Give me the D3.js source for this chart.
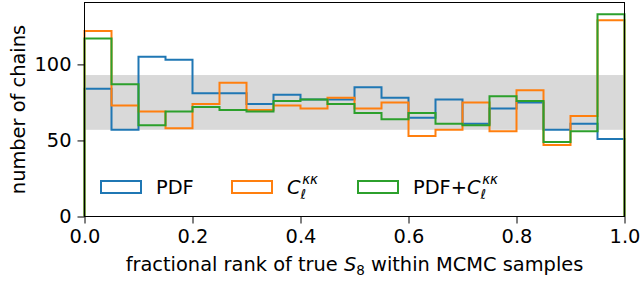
<html>
<script src='https://d3js.org/d3.v7.min.js'></script>
<style>
body { margin:0; background:#fff; }
text { font-family: "DejaVu Sans", sans-serif; }
</style>
<body>
<svg width=640 height=282></svg>
<script>
// bin edges: 20 bins between 0 and 1
var binEdges = d3.range(21).map(function(i) { return i / 20; });

// counts per bin
var pdfCounts = [84, 57, 105, 103, 81, 81, 74, 80, 77, 77, 85, 78, 65, 77, 61, 71, 75, 57, 61, 51];
var clCounts = [122, 73, 69, 58, 74, 88, 70, 73, 71, 78, 71, 75, 53, 57, 75, 56, 83, 47, 66, 129];
var bothCounts = [117, 87, 60, 69, 72, 70, 69, 76, 77, 74, 68, 64, 68, 61, 60, 79, 76, 49, 56, 133];

var bandRange = [57, 93];
var xTicks = [0, 0.2, 0.4, 0.6, 0.8, 1.0];
var yTicks = [0, 50, 100];

var seriesNames = ["PDF", "Cl", "PDF+Cl"];
var seriesColors = ["#1f77b4", "#ff7f0e", "#2ca02c"];

var svg = d3.select("svg");
var plotL = 84.5, plotR = 624.5, plotT = 2.5, plotB = 216.5;
var fs = "19.4px";

var x = d3.scaleLinear().domain([0, 1]).range([plotL, plotR]);
var y = d3.scaleLinear().domain([0, 140.7]).range([plotB, plotT]);

// gray band
svg.append("rect")
.attr("x", x(0))
.attr("y", y(bandRange[1]))
.attr("width", x(1) - x(0))
.attr("height", y(bandRange[0]) - y(bandRange[1]))
.style("fill", "#d9d9d9");

// step histograms
function stepPath(counts) {
  var pts = [[binEdges[0], 0]];
  counts.forEach(function(c, i) {
    pts.push([binEdges[i], c]);
    pts.push([binEdges[i + 1], c]);
  });
  pts.push([binEdges[20], 0]);
  return d3.line().x(function(d) { return x(d[0]); }).y(function(d) { return y(d[1]); })(pts);
}

[pdfCounts, clCounts, bothCounts].forEach(function(counts, k) {
  svg.append("path")
  .attr("d", stepPath(counts))
  .style("fill", "none")
  .style("stroke", seriesColors[k])
  .style("stroke-width", 2)
  .style("stroke-linejoin", "miter");
});

// frame
svg.append("rect")
.attr("x", plotL).attr("y", plotT)
.attr("width", plotR - plotL).attr("height", plotB - plotT)
.style("fill", "none").style("stroke", "black").style("stroke-width", 1);

// axes
var xAxis = svg.append("g")
.attr("transform", "translate(0," + plotB + ")")
.call(d3.axisBottom(x).tickValues(xTicks).tickFormat(d3.format(".1f")).tickSize(7).tickPadding(6));
var yAxis = svg.append("g")
.attr("transform", "translate(" + plotL + ",0)")
.call(d3.axisLeft(y).tickValues(yTicks).tickSize(7).tickPadding(6));

[xAxis, yAxis].forEach(function(a) {
  a.select(".domain").remove();
  a.selectAll("text").style("font-family", "DejaVu Sans").style("font-size", fs).style("fill", "black");
  a.selectAll("line").style("stroke", "black");
});

svg.append("text")
.attr("x", x(0.5)).attr("y", 270.5)
.attr("text-anchor", "middle")
.style("font-size", fs)
.call(function(t) {
  t.append("tspan").text("fractional rank of true ");
  t.append("tspan").style("font-style", "italic").text("S");
  t.append("tspan").attr("dy", 4).style("font-size", "13.5px").text("8");
  t.append("tspan").attr("dy", -4).text(" within MCMC samples");
});

svg.append("text")
.attr("transform", "translate(25," + ((plotT + plotB) / 2) + ") rotate(-90)")
.attr("text-anchor", "middle")
.style("font-size", fs)
.text("number of chains");

// legend
var legendX = [101, 232, 358];
seriesNames.forEach(function(name, k) {
  var g = svg.append("g").attr("transform", "translate(" + legendX[k] + ",181)");
  g.append("rect")
  .attr("width", 40).attr("height", 12)
  .style("fill", "none").style("stroke", seriesColors[k]).style("stroke-width", 2);
  var t = g.append("text").attr("x", 55).attr("y", 13).style("font-size", fs);
  if (name == "PDF") {
    t.text("PDF");
  } else {
    if (name == "PDF+Cl") t.append("tspan").text("PDF+");
    t.append("tspan").style("font-style", "italic").text("C");
    t.append("tspan").attr("dy", 5).style("font-size", "13.5px").style("font-style", "italic").text("\u2113");
    t.append("tspan").attr("dx", -4).attr("dy", -15).style("font-size", "13.5px").style("font-style", "italic").text("\u03BA\u03BA");
  }
});
</script>
</body>
</html>
